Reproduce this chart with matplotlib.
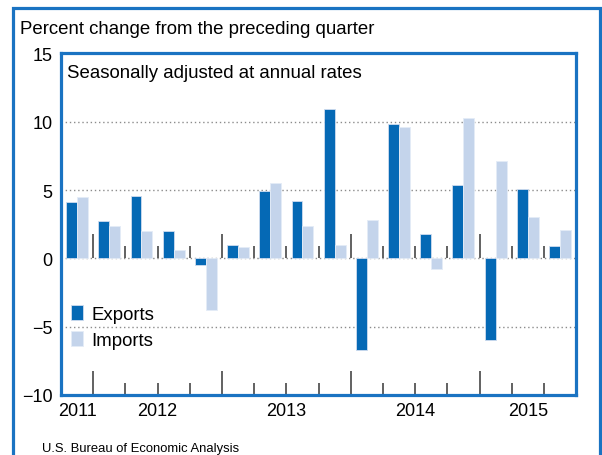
import matplotlib
matplotlib.use("Agg")
import numpy as np
import matplotlib.pyplot as plt
from matplotlib.patches import Rectangle

# quarterly percent change, 2011 Q4 through 2015 Q3
quarters = ["2011Q4",
            "2012Q1", "2012Q2", "2012Q3", "2012Q4",
            "2013Q1", "2013Q2", "2013Q3", "2013Q4",
            "2014Q1", "2014Q2", "2014Q3", "2014Q4",
            "2015Q1", "2015Q2", "2015Q3"]
exports = [4.1, 2.7, 4.6, 2.0, -0.5, 1.0, 4.9, 4.2, 10.9, -6.7, 9.8, 1.8, 5.4, -6.0, 5.1, 0.9]
imports = [4.5, 2.4, 2.0, 0.6, -3.8, 0.8, 5.5, 2.4, 1.0, 2.8, 9.6, -0.8, 10.3, 7.1, 3.0, 2.1]

years = ["2011", "2012", "2013", "2014", "2015"]
year_pos = [0, 2.5, 6.5, 10.5, 14]
year_breaks = [0.5, 4.5, 8.5, 12.5]

yticks = [15, 10, 5, 0, -5, -10]

EXP_COLOR = "#0569b5"
IMP_COLOR = "#c4d4eb"
FRAME = "#1a73c2"

plt.rcParams["font.family"] = ["Liberation Sans", "DejaVu Sans"]

fig = plt.figure(figsize=(6.02, 4.56), dpi=100)
ax = fig.add_axes([0.1013, 0.1316, 0.8557, 0.7491])

x = np.arange(len(quarters))
w = 0.34
ax.bar(x - w / 2, exports, w, color=EXP_COLOR, edgecolor="#cfdcef", linewidth=0.6, zorder=3, label="Exports")
ax.bar(x + w / 2, imports, w, color=IMP_COLOR, edgecolor="#e4ecf7", linewidth=0.6, zorder=3, label="Imports")

ax.set_xlim(-0.5, len(quarters) - 0.5)
ax.set_ylim(-10, 15)

# dotted grid, zero line included
for g in [10, 5, 0, -5]:
    ax.axhline(g, color="#8c8c8c", linestyle=(0, (1, 2)), linewidth=1.0, zorder=1)

# quarter separators on the baseline and on the zero line
for b in np.arange(0.5, len(quarters) - 0.5, 1.0):
    h = 1.76 if b in year_breaks else 0.88
    ax.vlines(b, -10, -10 + h, color="#555555", linewidth=1.3, zorder=2)
    ax.vlines(b, 0, h, color="#555555", linewidth=1.3, zorder=2)

ax.set_yticks(yticks)
ax.set_yticklabels([str(t).replace("-", "\u2212") for t in yticks], fontsize=13)
ax.set_xticks(year_pos)
ax.set_xticklabels(years, fontsize=13)
ax.tick_params(axis="both", length=0)
ax.tick_params(axis="y", pad=6)
ax.tick_params(axis="x", pad=5)

for s in ax.spines.values():
    s.set_color(FRAME)
    s.set_linewidth(2.3)

ax.text(0.012, 0.968, "Seasonally adjusted at annual rates", transform=ax.transAxes,
        fontsize=13.4, va="top", ha="left")

ax.legend(loc="upper left", bbox_to_anchor=(0.02, 0.262), frameon=False, fontsize=13.4,
          handlelength=0.62, handleheight=0.85, handletextpad=0.45, labelspacing=0.4,
          borderpad=0, borderaxespad=0)

fig.text(20 / 602, 1 - 30 / 456, "Percent change from the preceding quarter",
         fontsize=13.4, va="center", ha="left")
fig.text(42 / 602, 1 - 449 / 456, "U.S. Bureau of Economic Analysis",
         fontsize=9.4, va="center", ha="left")

# outer frame around the whole graphic
fig.patches.append(Rectangle((12.7 / 602, -0.2), (600 - 12.7) / 602, 1.2 - 8.7 / 456,
                             transform=fig.transFigure, fill=False,
                             edgecolor=FRAME, linewidth=2.3))

fig.savefig("out.png", dpi=100)
